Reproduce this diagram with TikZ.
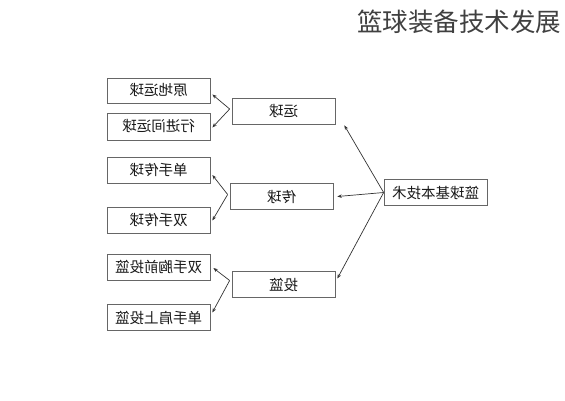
\documentclass[tikz,border=0pt]{standalone}
\usepackage{fontspec}
\setmainfont{Noto Sans CJK SC}
\usetikzlibrary{arrows.meta,calc}

\begin{document}
\begin{tikzpicture}[x=1pt, y=-1pt,
    box/.style={rectangle, draw=black!60, line width=0.7pt, minimum width=103pt, minimum height=26pt,
        inner sep=0pt, font=\fontsize{14.5}{14.5}\selectfont, text=black!90},
    link/.style={draw=black!80, line width=0.7pt, -{Stealth[length=4.5pt,width=3.5pt]}}]
    \useasboundingbox (0,0) rectangle (565,400);
    \node[anchor=east, font=\fontsize{25.5}{25.5}\selectfont, text=black!75] (title) at (565,22) {篮球装备技术发展};

    \node[box] (jb) at (435.5,192.5) {\reflectbox{篮球基本技术}};
    \node[box] (yq) at (283.5,111) {\reflectbox{运球}};
    \node[box] (cq) at (281.5,196.5) {\reflectbox{传球}};
    \node[box] (tl) at (283.5,284.5) {\reflectbox{投篮}};

    \node[box, minimum height=25pt] (ydyq) at (158.5,90.5) {\reflectbox{原地运球}};
    \node[box, minimum height=27pt] (xjjyq) at (158.5,126.5) {\reflectbox{行进间运球}};
    \node[box] (dscq) at (158.5,170) {\reflectbox{单手传球}};
    \node[box] (sscq) at (158.5,220.5) {\reflectbox{双手传球}};
    \node[box] (sstl) at (158.5,267) {\reflectbox{双手胸前投篮}};
    \node[box] (dstl) at (158.5,317.5) {\reflectbox{单手肩上投篮}};

    % main branches
    \draw[link] (jb.west) -- ($(yq.south east)+(9,1)$);
    \draw[link] (jb.west) -- ($(cq.east)+(4,0)$);
    \draw[link] (jb.west) -- ($(tl.east)+(2,-6)$);

    % sub branches
    \draw[link] ($(yq.west)+(-2,-2)$) -- ($(ydyq.east)+(2,4)$);
    \draw[link] ($(yq.west)+(-2,-2)$) -- ($(xjjyq.east)+(2,1)$);
    \draw[link] ($(cq.west)+(-2,-2)$) -- ($(dscq.east)+(2,5)$);
    \draw[link] ($(cq.west)+(-2,-2)$) -- ($(sscq.east)+(2,0)$);
    \draw[link] ($(tl.west)+(-2,-4)$) -- ($(sstl.east)+(3,1)$);
    \draw[link] ($(tl.west)+(-2,-4)$) -- ($(dstl.east)+(2,-5)$);
\end{tikzpicture}
\end{document}
